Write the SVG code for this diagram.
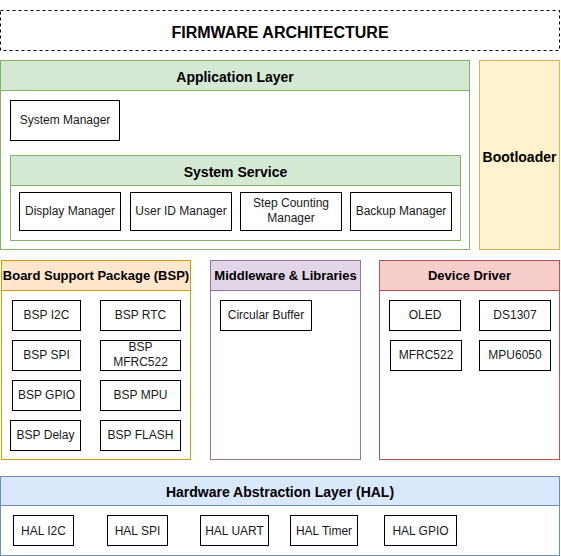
<svg xmlns="http://www.w3.org/2000/svg" width="561" height="556" viewBox="0 0 561 556">
<style>
text{font-family:"Liberation Sans",Arial,Helvetica,sans-serif;text-anchor:middle;fill:#000}
.h{font-weight:bold;font-size:14px}
.h13{font-weight:bold;font-size:13px}
.t{font-size:12px;fill:#1a1a1a}
.item{fill:#fff;stroke:#000;stroke-width:1}
.g{fill:#d5e8d4;stroke:#82b366}
.gb{fill:#fff;stroke:#82b366}
.o{fill:#ffe6cc;stroke:#d79b00}
.ob{fill:#fff;stroke:#d79b00}
.p{fill:#e1d5e7;stroke:#9673a6}
.pb{fill:#fff;stroke:#9673a6}
.r{fill:#f8cecc;stroke:#b85450}
.rb{fill:#fff;stroke:#b85450}
.b{fill:#dae8fc;stroke:#6c8ebf}
.bb{fill:#fff;stroke:#6c8ebf}
.y{fill:#fff2cc;stroke:#d6b656}
</style>
<rect width="561" height="556" fill="#fff"/>
<g id="title">
<rect x="0.5" y="10.5" width="559" height="40" fill="#fff" stroke="#000" stroke-dasharray="3 3"/>
<text x="280" y="37.5" style="font-weight:bold;font-size:16px">FIRMWARE ARCHITECTURE</text>
</g>
<g id="application-layer">
<rect class="gb" x="0.5" y="60.5" width="469" height="189"/>
<rect class="g" x="0.5" y="60.5" width="469" height="30"/>
<text class="h" x="235" y="82">Application Layer</text>
</g>
<g id="system-manager">
<rect class="item" x="10.5" y="100.5" width="109" height="40"/>
<text class="t" x="65" y="124">System Manager</text>
</g>
<g id="system-service">
<rect class="gb" x="10.5" y="155.5" width="450" height="85"/>
<rect class="g" x="10.5" y="155.5" width="450" height="30"/>
<text class="h" x="235.5" y="177">System Service</text>
</g>
<g id="display-manager">
<rect class="item" x="19.5" y="192.5" width="101" height="38"/>
<text class="t" x="70" y="214.5">Display Manager</text>
</g>
<g id="user-id-manager">
<rect class="item" x="130.5" y="192.5" width="101" height="38"/>
<text class="t" x="181" y="214.5">User ID Manager</text>
</g>
<g id="step-counting-manager">
<rect class="item" x="240.5" y="192.5" width="101" height="38"/>
<text class="t" x="291" y="207">Step Counting</text>
<text class="t" x="291" y="222">Manager</text>
</g>
<g id="backup-manager">
<rect class="item" x="350.5" y="192.5" width="101" height="38"/>
<text class="t" x="401" y="214.5">Backup Manager</text>
</g>
<g id="bootloader">
<rect class="y" x="479.5" y="60.5" width="80" height="189"/>
<text class="h" x="519.5" y="162">Bootloader</text>
</g>
<g id="bsp">
<rect class="ob" x="1.5" y="260.5" width="189" height="199"/>
<rect class="o" x="1.5" y="260.5" width="189" height="30"/>
<text class="h13" x="96" y="280">Board Support Package (BSP)</text>
</g>
<g id="bsp-i2c"><rect class="item" x="12.5" y="300.5" width="68" height="30"/><text class="t" x="46.5" y="319">BSP I2C</text></g>
<g id="bsp-rtc"><rect class="item" x="100.5" y="300.5" width="80" height="30"/><text class="t" x="140.5" y="319">BSP RTC</text></g>
<g id="bsp-spi"><rect class="item" x="12.5" y="340.5" width="68" height="30"/><text class="t" x="46.5" y="359">BSP SPI</text></g>
<g id="bsp-mfrc522"><rect class="item" x="100.5" y="340.5" width="80" height="30"/><text class="t" x="140.5" y="350.5">BSP</text><text class="t" x="140.5" y="366">MFRC522</text></g>
<g id="bsp-gpio"><rect class="item" x="12.5" y="380.5" width="68" height="30"/><text class="t" x="46.5" y="399">BSP GPIO</text></g>
<g id="bsp-mpu"><rect class="item" x="100.5" y="380.5" width="80" height="30"/><text class="t" x="140.5" y="399">BSP MPU</text></g>
<g id="bsp-delay"><rect class="item" x="10.5" y="420.5" width="70" height="30"/><text class="t" x="45.5" y="439">BSP Delay</text></g>
<g id="bsp-flash"><rect class="item" x="100.5" y="420.5" width="80" height="30"/><text class="t" x="140.5" y="439">BSP FLASH</text></g>
<g id="middleware">
<rect class="pb" x="210.5" y="260.5" width="150" height="199"/>
<rect class="p" x="210.5" y="260.5" width="150" height="30"/>
<text class="h13" x="285.5" y="280">Middleware &amp; Libraries</text>
</g>
<g id="circular-buffer"><rect class="item" x="220.5" y="300.5" width="91" height="30"/><text class="t" x="266" y="319">Circular Buffer</text></g>
<g id="device-driver">
<rect class="rb" x="379.5" y="260.5" width="180" height="199"/>
<rect class="r" x="379.5" y="260.5" width="180" height="30"/>
<text class="h13" x="469.5" y="280">Device Driver</text>
</g>
<g id="oled"><rect class="item" x="389.5" y="300.5" width="71" height="30"/><text class="t" x="425" y="319">OLED</text></g>
<g id="ds1307"><rect class="item" x="479.5" y="300.5" width="71" height="30"/><text class="t" x="515" y="319">DS1307</text></g>
<g id="mfrc522"><rect class="item" x="390.5" y="340.5" width="71" height="30"/><text class="t" x="426" y="359">MFRC522</text></g>
<g id="mpu6050"><rect class="item" x="479.5" y="340.5" width="71" height="30"/><text class="t" x="515" y="359">MPU6050</text></g>
<g id="hal">
<rect class="bb" x="0.5" y="476.5" width="559" height="79"/>
<rect class="b" x="0.5" y="476.5" width="559" height="29"/>
<text class="h" x="280" y="496.5">Hardware Abstraction Layer (HAL)</text>
</g>
<g id="hal-i2c"><rect class="item" x="13.5" y="515.5" width="60" height="30"/><text class="t" x="43.5" y="534.5">HAL I2C</text></g>
<g id="hal-spi"><rect class="item" x="107.5" y="515.5" width="60" height="30"/><text class="t" x="137.5" y="534.5">HAL SPI</text></g>
<g id="hal-uart"><rect class="item" x="200.5" y="515.5" width="68" height="30"/><text class="t" x="234.5" y="534.5">HAL UART</text></g>
<g id="hal-timer"><rect class="item" x="290.5" y="515.5" width="67" height="30"/><text class="t" x="324" y="534.5">HAL Timer</text></g>
<g id="hal-gpio"><rect class="item" x="384.5" y="515.5" width="72" height="30"/><text class="t" x="420.5" y="534.5">HAL GPIO</text></g>
<g id="connectors"/>
</svg>
